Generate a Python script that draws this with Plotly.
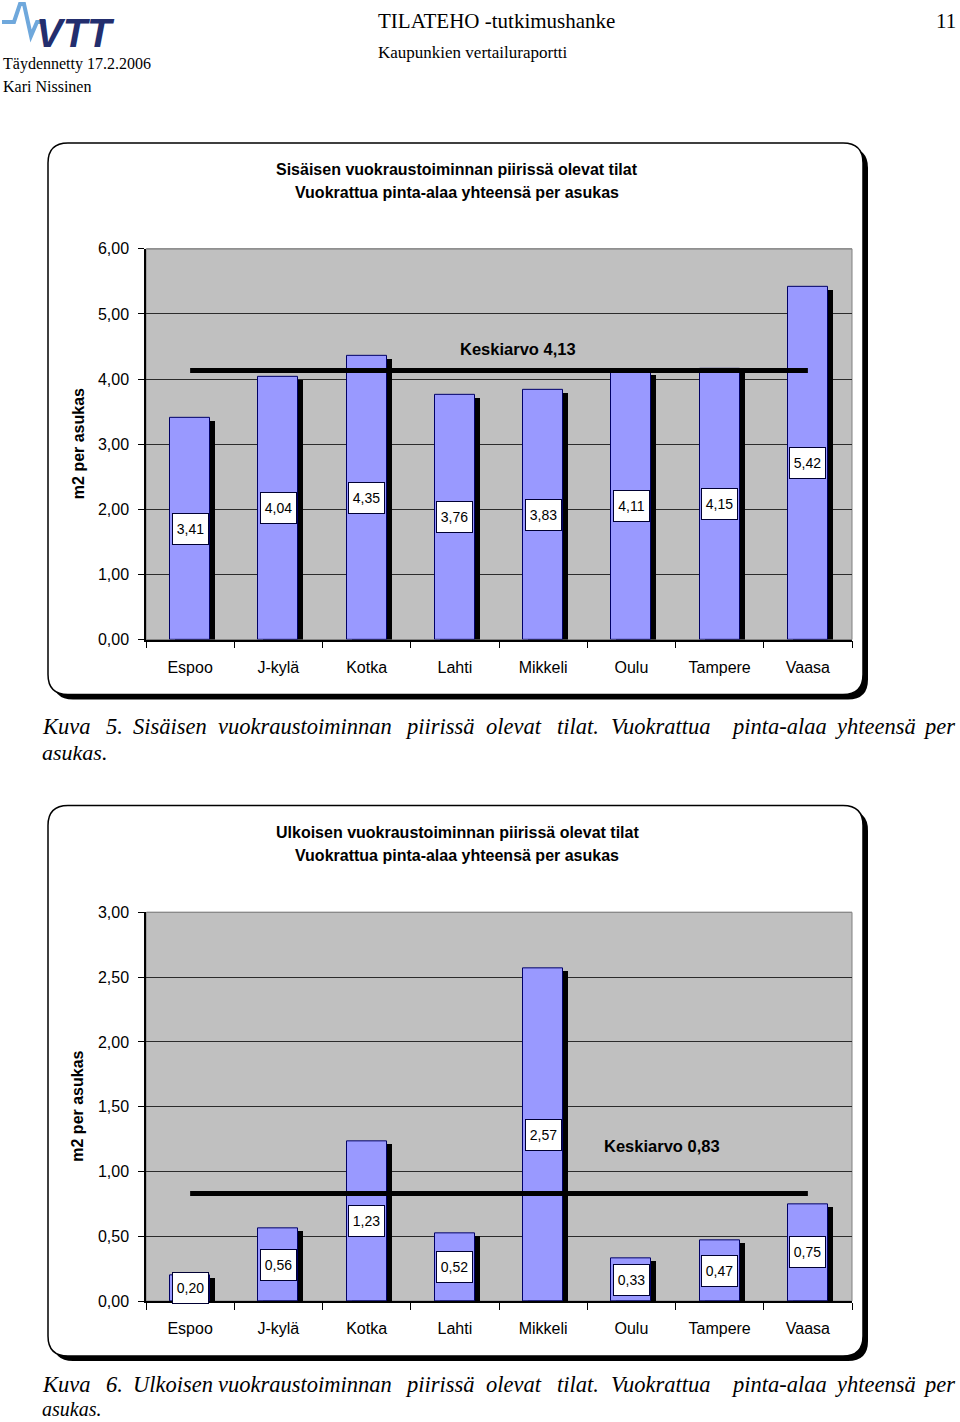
import plotly.graph_objects as go

# ---------------- data ----------------
cities = ["Espoo", "J-kylä", "Kotka", "Lahti", "Mikkeli", "Oulu", "Tampere", "Vaasa"]
inner_values = [3.41, 4.04, 4.35, 3.76, 3.83, 4.11, 4.15, 5.42]
inner_mean = 4.13
outer_values = [0.20, 0.56, 1.23, 0.52, 2.57, 0.33, 0.47, 0.75]
outer_mean = 0.83
inner_ticks = [0, 1, 2, 3, 4, 5, 6]
outer_ticks = [0, 0.5, 1.0, 1.5, 2.0, 2.5, 3.0]
inner_title = "Sisäisen vuokraustoiminnan piirissä olevat tilat<br>Vuokrattua pinta-alaa yhteensä per asukas"
outer_title = "Ulkoisen vuokraustoiminnan piirissä olevat tilat<br>Vuokrattua pinta-alaa yhteensä per asukas"
y_title = "m2 per asukas"
caption5_words = ["Kuva", "5.", "Sisäisen", "vuokraustoiminnan", "piirissä", "olevat", "tilat.",
                  "Vuokrattua", "pinta-alaa", "yhteensä", "per"]
caption6_words = ["Kuva", "6.", "Ulkoisen", "vuokraustoiminnan", "piirissä", "olevat", "tilat.",
                  "Vuokrattua", "pinta-alaa", "yhteensä", "per"]
caption_tail = "asukas."

W, H = 960, 1422
SANS = "Liberation Sans, Arial, sans-serif"
SERIF = "Liberation Serif, Times New Roman, serif"

# the page is photographed with an 8 px band top and bottom -> map target pixel rows
Y_OFF, Y_SPAN = 8, 1406


def px(x):
    return x / W


def py(y):
    return 1 - (y - Y_OFF) / Y_SPAN


def fmt(v):
    return f"{v:.2f}".replace(".", ",")


def rounded_path(x0, y0, x1, y1, r):
    def P(x, y):
        return f"{px(x):.5f},{py(y):.5f}"
    return (f"M {P(x0 + r, y0)} L {P(x1 - r, y0)} Q {P(x1, y0)} {P(x1, y0 + r)} "
            f"L {P(x1, y1 - r)} Q {P(x1, y1)} {P(x1 - r, y1)} L {P(x0 + r, y1)} "
            f"Q {P(x0, y1)} {P(x0, y1 - r)} L {P(x0, y0 + r)} Q {P(x0, y0)} {P(x0 + r, y0)} Z")


fig = go.Figure()

PX0, PX1 = 146, 852
charts = [
    dict(vals=inner_values, mean=inner_mean, ticks=inner_ticks, ymax=6, top=249, bot=640,
         box=(48, 143, 863, 695), title=inner_title, title_y=(170, 193), xa="x", ya="y",
         mean_lbl_x=3.715, mean_lbl_shift=22),
    dict(vals=outer_values, mean=outer_mean, ticks=outer_ticks, ymax=3, top=913, bot=1302,
         box=(48, 806, 863, 1357), title=outer_title, title_y=(833, 856), xa="x2", ya="y2",
         mean_lbl_x=5.35, mean_lbl_shift=48),
]

shapes = []
annotations = []
cat_px = (PX1 - PX0) / len(cities)
bar_w = 40 / cat_px

for c in charts:
    unit_per_px = c["ymax"] / (c["bot"] - c["top"])
    dx = 5 / cat_px
    dy = 3 * unit_per_px
    fig.add_trace(go.Bar(
        x=cities, y=[v - dy for v in c["vals"]], base=0,
        width=bar_w, offset=-bar_w / 2 + dx,
        marker=dict(color="black", line=dict(width=0)),
        xaxis=c["xa"], yaxis=c["ya"], showlegend=False, hoverinfo="skip"))
    fig.add_trace(go.Bar(
        x=cities, y=c["vals"], width=bar_w, offset=-bar_w / 2,
        marker=dict(color="#9999FF", line=dict(color="#000066", width=1)),
        xaxis=c["xa"], yaxis=c["ya"], showlegend=False))
    fig.add_trace(go.Scatter(
        x=[cities[0], cities[-1]], y=[c["mean"], c["mean"]], mode="lines",
        line=dict(color="black", width=5),
        xaxis=c["xa"], yaxis=c["ya"], showlegend=False))

    for city, v in zip(cities, c["vals"]):
        annotations.append(dict(
            x=city, y=v / 2, xref=c["xa"], yref=c["ya"], text=fmt(v), showarrow=False,
            font=dict(family=SANS, size=14, color="black"),
            bgcolor="white", bordercolor="#000033", borderwidth=1, borderpad=1,
            width=33, height=28, xanchor="center", yanchor="middle"))
    annotations.append(dict(
        x=c["mean_lbl_x"], y=c["mean"], xref=c["xa"], yref=c["ya"],
        text=f"<b>Keskiarvo {fmt(c['mean'])}</b>", showarrow=False, yshift=c["mean_lbl_shift"],
        font=dict(family=SANS, size=16.5, color="black"), xanchor="center", yanchor="middle"))
    t1, t2 = c["title"].split("<br>")
    for t, ty in ((t1, c["title_y"][0]), (t2, c["title_y"][1])):
        annotations.append(dict(x=px(457), y=py(ty), xref="paper", yref="paper",
                                text=f"<b>{t}</b>", showarrow=False,
                                font=dict(family=SANS, size=16, color="black"),
                                xanchor="center", yanchor="middle"))
    annotations.append(dict(x=px(78), y=py((c["top"] + c["bot"]) / 2), xref="paper", yref="paper",
                            text=f"<b>{y_title}</b>", showarrow=False, textangle=-90,
                            font=dict(family=SANS, size=16, color="black"),
                            xanchor="center", yanchor="middle"))

    x0, y0, x1, y1 = c["box"]
    shapes.append(dict(type="path", path=rounded_path(x0 + 5, y0 + 5, x1 + 5, y1 + 5, 20),
                       xref="paper", yref="paper", fillcolor="black", line=dict(width=0),
                       layer="below"))
    shapes.append(dict(type="path", path=rounded_path(x0, y0, x1, y1, 20),
                       xref="paper", yref="paper", fillcolor="white",
                       line=dict(color="black", width=1.5), layer="below"))
    shapes.append(dict(type="rect", x0=px(PX0), x1=px(PX1), y0=py(c["bot"]), y1=py(c["top"]),
                       xref="paper", yref="paper", fillcolor="#C0C0C0",
                       line=dict(color="#808080", width=1), layer="below"))
    shapes.append(dict(type="line", x0=px(PX0 + 1), x1=px(PX1), y0=py(c["top"]), y1=py(c["top"]),
                       xref="paper", yref="paper", line=dict(color="#8a8a8a", width=1.2),
                       layer="above"))

# captions (justified lines: word start positions)
cap_x = [40, 104, 131, 216, 403, 484, 555, 609, 729, 833, 921]
for words, yl1, yl2, s2 in [(caption5_words, 727, 753, 22), (caption6_words, 1385, 1410, 20)]:
    for w, x in zip(words, cap_x):
        annotations.append(dict(x=px(x), y=py(yl1), xref="paper", yref="paper", text=f"<i>{w}</i>",
                                showarrow=False, xanchor="left", yanchor="middle",
                                font=dict(family=SERIF, size=22.5, color="black")))
    annotations.append(dict(x=px(40), y=py(yl2), xref="paper", yref="paper", text=f"<i>{caption_tail}</i>",
                            showarrow=False, xanchor="left", yanchor="middle",
                            font=dict(family=SERIF, size=s2, color="black")))

# header
header = [
    ("TILATEHO -tutkimushanke", 376, 21, 21, "left"),
    ("Kaupunkien vertailuraportti", 376, 53, 17, "left"),
    ("11", 958, 21, 21, "right"),
    ("Täydennetty 17.2.2006", 1, 64, 16, "left"),
    ("Kari Nissinen", 1, 87, 16, "left"),
]
for txt, x, y, s, anc in header:
    annotations.append(dict(x=px(x), y=py(y), xref="paper", yref="paper", text=txt, showarrow=False,
                            xanchor=anc, yanchor="middle",
                            font=dict(family=SERIF, size=s, color="black")))
# logo
annotations.append(dict(x=px(34), y=py(33), xref="paper", yref="paper", text="<b><i>VTT</i></b>",
                        showarrow=False, xanchor="left", yanchor="middle",
                        font=dict(family=SANS, size=40, color="#232E6E")))
logo_pts = [(2, 22), (14, 22), (20, 4), (24, 4), (31, 36), (37, 22), (46, 22)]
logo_path = "M " + " L ".join(f"{px(a):.5f},{py(b):.5f}" for a, b in logo_pts)
shapes.append(dict(type="path", path=logo_path, xref="paper", yref="paper",
                   line=dict(color="#6FA8DC", width=4), layer="above"))

axis_common = dict(showline=True, linecolor="black", linewidth=1.5, ticks="outside",
                   tickcolor="black", tickfont=dict(family=SANS, size=16, color="black"),
                   zeroline=False)

fig.update_layout(
    width=W, height=H, autosize=False, margin=dict(l=0, r=0, t=0, b=0),
    paper_bgcolor="white", plot_bgcolor="rgba(0,0,0,0)",
    barmode="overlay", bargap=0, separators=", ",
    shapes=shapes, annotations=annotations, showlegend=False,
    xaxis=dict(domain=[px(PX0), px(PX1)], anchor="y", type="category", range=[-0.5, 7.5],
               tickson="boundaries", ticklen=7, showgrid=False, ticklabelstandoff=12, **axis_common),
    yaxis=dict(domain=[py(640), py(249)], anchor="x", range=[0, 6], tickvals=inner_ticks,
               tickformat=".2f", ticklen=6, showgrid=True, gridcolor="#2b2b2b", gridwidth=1,
               ticklabelstandoff=6, **axis_common),
    xaxis2=dict(domain=[px(PX0), px(PX1)], anchor="y2", type="category", range=[-0.5, 7.5],
                tickson="boundaries", ticklen=7, showgrid=False, ticklabelstandoff=12, **axis_common),
    yaxis2=dict(domain=[py(1302), py(913)], anchor="x2", range=[0, 3], tickvals=outer_ticks,
                tickformat=".2f", ticklen=6, showgrid=True, gridcolor="#2b2b2b", gridwidth=1,
                ticklabelstandoff=6, **axis_common),
)

fig.write_html("out.html")
